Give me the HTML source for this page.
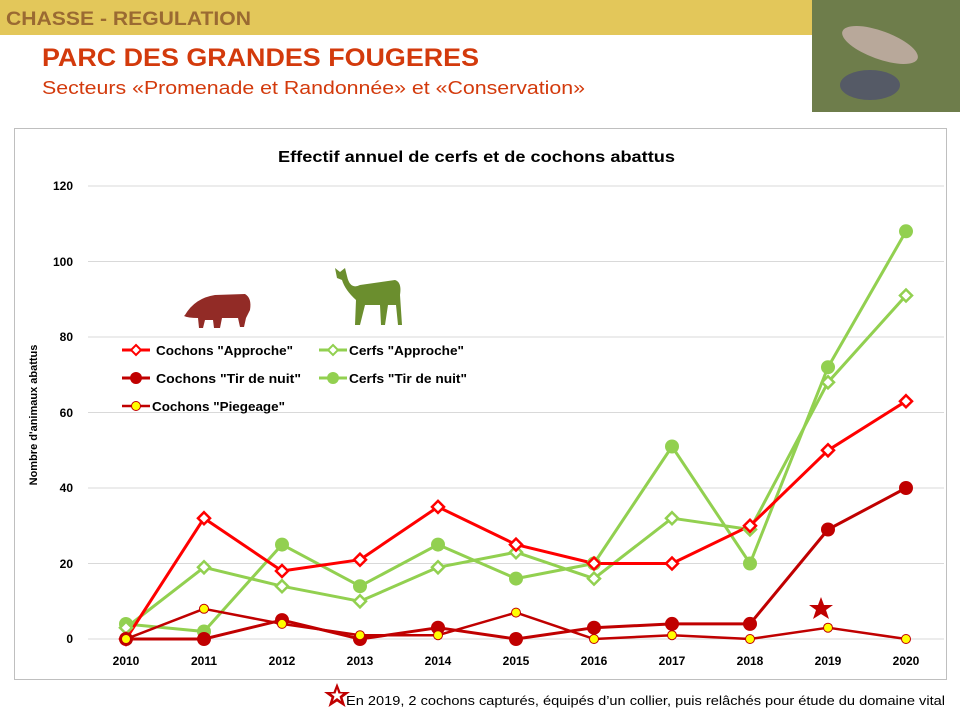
<!DOCTYPE html>
<html><head><meta charset="utf-8"><style>
body{margin:0;width:960px;height:720px;background:#fff;overflow:hidden;font-family:"Liberation Sans",sans-serif}
</style></head><body>
<svg width="960" height="720" viewBox="0 0 960 720" xmlns="http://www.w3.org/2000/svg" font-family="Liberation Sans, sans-serif">
<rect x="0" y="0" width="812" height="35" fill="#e3c75a"/>
<text x="6" y="25" font-size="19" font-weight="bold" fill="#9a6a32" textLength="245" lengthAdjust="spacingAndGlyphs">CHASSE  - REGULATION</text>
<rect x="812" y="0" width="148" height="112" fill="#5d6a3c"/>
<rect x="812" y="0" width="148" height="112" fill="#7a8a55" opacity="0.6"/>
<ellipse cx="880" cy="45" rx="40" ry="14" fill="#b8a89a" transform="rotate(20 880 45)"/>
<ellipse cx="870" cy="85" rx="30" ry="15" fill="#555a66"/>
<text x="42" y="66" font-size="25" font-weight="bold" fill="#d33a0c" textLength="437" lengthAdjust="spacingAndGlyphs">PARC DES GRANDES FOUGERES</text>
<text x="42" y="94" font-size="18" fill="#d33a0c" textLength="543" lengthAdjust="spacingAndGlyphs">Secteurs «Promenade  et Randonnée»  et «Conservation»</text>
<rect x="14.5" y="128.5" width="932" height="551" fill="none" stroke="#bfbfbf"/>
<text x="278" y="162" font-size="16" font-weight="bold" fill="#000" textLength="397" lengthAdjust="spacingAndGlyphs">Effectif annuel de cerfs et de cochons abattus</text>
<g stroke="#d9d9d9" stroke-width="1">
<line x1="88" y1="186" x2="944" y2="186"/><line x1="88" y1="261.5" x2="944" y2="261.5"/>
<line x1="88" y1="337" x2="944" y2="337"/><line x1="88" y1="412.5" x2="944" y2="412.5"/>
<line x1="88" y1="488" x2="944" y2="488"/><line x1="88" y1="563.5" x2="944" y2="563.5"/>
<line x1="88" y1="639" x2="944" y2="639"/>
</g>
<g font-size="12" font-weight="bold" text-anchor="end">
<text x="73" y="190">120</text><text x="73" y="266">100</text><text x="73" y="341">80</text>
<text x="73" y="417">60</text><text x="73" y="492">40</text><text x="73" y="568">20</text><text x="73" y="643">0</text>
</g>
<g font-size="12" font-weight="bold" text-anchor="middle">
<text x="126" y="665">2010</text><text x="204" y="665">2011</text><text x="282" y="665">2012</text>
<text x="360" y="665">2013</text><text x="438" y="665">2014</text><text x="516" y="665">2015</text>
<text x="594" y="665">2016</text><text x="672" y="665">2017</text><text x="750" y="665">2018</text>
<text x="828" y="665">2019</text><text x="906" y="665">2020</text>
</g>
<text transform="translate(37 415) rotate(-90)" font-size="11" font-weight="bold" text-anchor="middle">Nombre d'animaux abattus</text>
<path d="M185 315 Q195 298 215 295 L245 294 Q252 298 250 310 L246 318 L244 327 L240 327 L238 318 L222 318 L220 328 L214 328 L213 320 L205 320 L203 328 L199 328 L198 318 Q188 318 184 316 Z" fill="#922b26"/>
<path d="M335 268 L340 272 L345 268 L347 276 Q350 290 360 285 L395 280 Q402 282 400 295 L402 325 L398 325 L396 305 L388 305 L385 325 L381 325 L380 305 L365 305 L360 325 L355 325 L356 300 Q345 290 342 280 L337 278 Z" fill="#6b8e2e"/>
<g fill="none" stroke-width="3" stroke-linejoin="round">
<polyline stroke="#92d050" points="126,624 204,631.5 282,544.6 360,586.2 438,544.6 516,578.6 594,563.5 672,446.5 750,563.5 828,367.2 906,231.3"/>
<polyline stroke="#92d050" points="126,627.7 204,567.3 282,586.2 360,601.3 438,567.3 516,552.2 594,578.6 672,518.2 750,529.5 828,382.3 906,295.5"/>
<polyline stroke="#ff0000" points="126,639 204,518.2 282,571 360,559.7 438,506.9 516,544.6 594,563.5 672,563.5 750,525.8 828,450.3 906,401.2"/>
<polyline stroke="#c00000" points="126,639 204,639 282,620.1 360,639 438,627.7 516,639 594,627.7 672,623.9 750,623.9 828,529.5 906,488"/>
<polyline stroke="#c00000" stroke-width="2.5" points="126,639 204,608.8 282,623.9 360,635.2 438,635.2 516,612.6 594,639 672,635.2 750,639 828,627.7 906,639"/>
</g>
<g fill="#92d050">
<circle cx="126" cy="624" r="7"/><circle cx="204" cy="631.5" r="7"/><circle cx="282" cy="544.6" r="7"/><circle cx="360" cy="586.2" r="7"/><circle cx="438" cy="544.6" r="7"/><circle cx="516" cy="578.6" r="7"/><circle cx="594" cy="563.5" r="7"/><circle cx="672" cy="446.5" r="7"/><circle cx="750" cy="563.5" r="7"/><circle cx="828" cy="367.2" r="7"/><circle cx="906" cy="231.3" r="7"/>
</g>
<g fill="#fff" stroke="#92d050" stroke-width="2.5">
<path d="M126 621.7l6 6-6 6-6-6z"/><path d="M204 561.3l6 6-6 6-6-6z"/><path d="M282 580.2l6 6-6 6-6-6z"/><path d="M360 595.3l6 6-6 6-6-6z"/><path d="M438 561.3l6 6-6 6-6-6z"/><path d="M516 546.2l6 6-6 6-6-6z"/><path d="M594 572.6l6 6-6 6-6-6z"/><path d="M672 512.2l6 6-6 6-6-6z"/><path d="M750 523.5l6 6-6 6-6-6z"/><path d="M828 376.3l6 6-6 6-6-6z"/><path d="M906 289.5l6 6-6 6-6-6z"/>
</g>
<g fill="#fff" stroke="#ff0000" stroke-width="2.5">
<path d="M126 633l6 6-6 6-6-6z"/><path d="M204 512.2l6 6-6 6-6-6z"/><path d="M282 565l6 6-6 6-6-6z"/><path d="M360 553.7l6 6-6 6-6-6z"/><path d="M438 500.9l6 6-6 6-6-6z"/><path d="M516 538.6l6 6-6 6-6-6z"/><path d="M594 557.5l6 6-6 6-6-6z"/><path d="M672 557.5l6 6-6 6-6-6z"/><path d="M750 519.8l6 6-6 6-6-6z"/><path d="M828 444.3l6 6-6 6-6-6z"/><path d="M906 395.2l6 6-6 6-6-6z"/>
</g>
<g fill="#c00000">
<circle cx="126" cy="639" r="7"/><circle cx="204" cy="639" r="7"/><circle cx="282" cy="620.1" r="7"/><circle cx="360" cy="639" r="7"/><circle cx="438" cy="627.7" r="7"/><circle cx="516" cy="639" r="7"/><circle cx="594" cy="627.7" r="7"/><circle cx="672" cy="623.9" r="7"/><circle cx="750" cy="623.9" r="7"/><circle cx="828" cy="529.5" r="7"/><circle cx="906" cy="488" r="7"/>
</g>
<path d="M821 597 L824 605 L833 605 L826 610 L829 619 L821 614 L813 619 L816 610 L809 605 L818 605 Z" fill="#c00000"/>
<g fill="#ffff00" stroke="#c00000" stroke-width="1">
<circle cx="126" cy="639" r="4.5"/><circle cx="204" cy="608.8" r="4.5"/><circle cx="282" cy="623.9" r="4.5"/><circle cx="360" cy="635.2" r="4.5"/><circle cx="438" cy="635.2" r="4.5"/><circle cx="516" cy="612.6" r="4.5"/><circle cx="594" cy="639" r="4.5"/><circle cx="672" cy="635.2" r="4.5"/><circle cx="750" cy="639" r="4.5"/><circle cx="828" cy="627.7" r="4.5"/><circle cx="906" cy="639" r="4.5"/>
</g>
<g font-size="13" font-weight="bold">
<line x1="122" y1="350" x2="150" y2="350" stroke="#ff0000" stroke-width="3"/><path d="M136 345l5 5-5 5-5-5z" fill="#fff" stroke="#ff0000" stroke-width="2"/>
<text x="156" y="355" textLength="137" lengthAdjust="spacingAndGlyphs">Cochons "Approche"</text>
<line x1="319" y1="350" x2="347" y2="350" stroke="#92d050" stroke-width="3"/><path d="M333 345l5 5-5 5-5-5z" fill="#fff" stroke="#92d050" stroke-width="2"/>
<text x="349" y="355" textLength="115" lengthAdjust="spacingAndGlyphs">Cerfs "Approche"</text>
<line x1="122" y1="378" x2="150" y2="378" stroke="#c00000" stroke-width="3"/><circle cx="136" cy="378" r="6" fill="#c00000"/>
<text x="156" y="383" textLength="145" lengthAdjust="spacingAndGlyphs">Cochons "Tir de  nuit"</text>
<line x1="319" y1="378" x2="347" y2="378" stroke="#92d050" stroke-width="3"/><circle cx="333" cy="378" r="6" fill="#92d050"/>
<text x="349" y="383" textLength="118" lengthAdjust="spacingAndGlyphs">Cerfs "Tir de nuit"</text>
<line x1="122" y1="406" x2="150" y2="406" stroke="#c00000" stroke-width="2.5"/><circle cx="136" cy="406" r="4.5" fill="#ffff00" stroke="#c00000"/>
<text x="152" y="411" textLength="133" lengthAdjust="spacingAndGlyphs">Cochons "Piegeage"</text>
</g>
<path d="M337 683 L340.5 692 L350 692 L342.5 697.5 L345.5 707 L337 701.5 L328.5 707 L331.5 697.5 L324 692 L333.5 692 Z" fill="#c00000"/>
<path d="M337 689 L338.5 693.5 L343 693.5 L339.5 696.5 L341 701 L337 698 L333 701 L334.5 696.5 L331 693.5 L335.5 693.5 Z" fill="#fff"/>
<text x="346" y="705" font-size="13" fill="#000" textLength="599" lengthAdjust="spacingAndGlyphs">En 2019, 2 cochons capturés, équipés d’un collier, puis relâchés pour étude du domaine vital</text>
</svg>
</body></html>
